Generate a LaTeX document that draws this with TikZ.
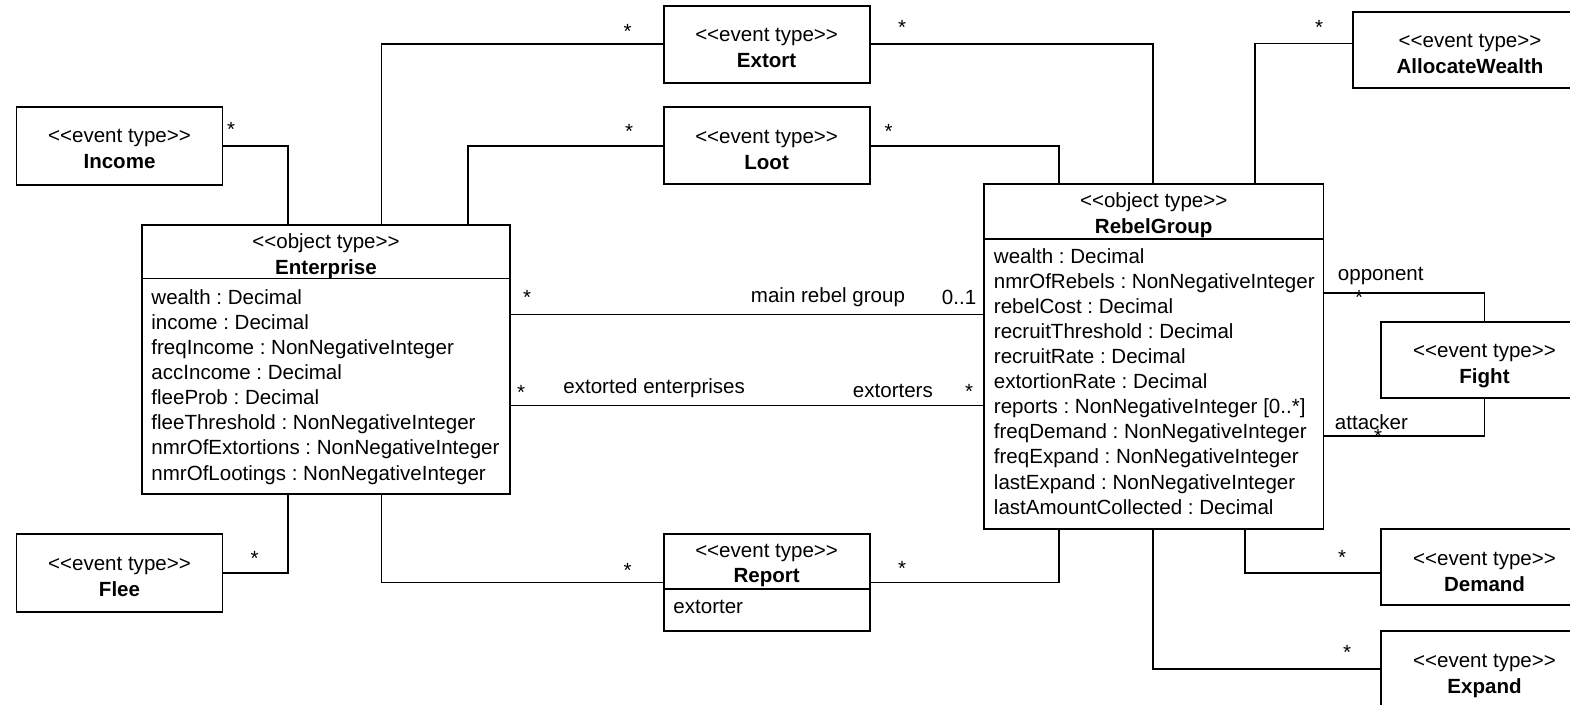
\documentclass[tikz,border=0pt]{standalone}
\usepackage{fontspec}
\newfontfamily\umlfont{Liberation Sans}
\usetikzlibrary{calc}
\frenchspacing
% \umlbox{name}{x1}{y1}{x2}{y2}: empty framed rectangle spanning the given corners
\newcommand\umlbox[5]{%
  \node[boxshape, minimum width={(#4-#2)*0.75pt}, minimum height={(#5-#3)*0.75pt}]
    (#1) at ({(#2+#4)/2},{(#3+#5)/2}) {};}
\begin{document}
\begin{tikzpicture}[x=0.75pt,y=-0.75pt,
  line width=1.4pt,
  boxshape/.style={draw, rectangle, inner sep=0pt, outer sep=0pt, fill=white},
  txt/.style={font=\umlfont\fontsize{15.4}{18}\selectfont, inner sep=0pt, anchor=base},
  ttl/.style={txt, font=\umlfont\fontsize{15.4}{18}\selectfont\bfseries},
  attr/.style={txt, anchor=base west},
  mult/.style={txt, anchor=base},
  rolelbl/.style={txt, anchor=base west}
]
\useasboundingbox (0,0) rectangle (1570,705);
\fill[white] (0,0) rectangle (1570,705);
\clip (0,0) rectangle (1570,705);

% ---------- boxes ----------
\umlbox{inc}{16.5}{107.3}{222.5}{185}
\umlbox{flee}{16.5}{534.3}{222.5}{611.7}
\umlbox{ent}{142}{225}{510}{494}
\umlbox{ext}{663.6}{5.7}{869.6}{82.7}
\umlbox{loot}{663.6}{107.3}{869.6}{184.3}
\umlbox{rep}{663.6}{534}{869.6}{631}
\umlbox{rg}{984}{184}{1323.5}{529}
\umlbox{aw}{1353}{11.7}{1588}{88.3}
\umlbox{fight}{1381}{322}{1588}{398}
\umlbox{dem}{1381}{529}{1588}{605}
\umlbox{exp}{1381}{631}{1588}{708}

% compartment separators
\draw (ent.west |- 0,278.5) -- (ent.east |- 0,278.5);
\draw (rg.west |- 0,239) -- (rg.east |- 0,239);
\draw (rep.west |- 0,589) -- (rep.east |- 0,589);

% ---------- box titles ----------
\node[txt] (inc-s) at (119.5,143) {<<event type>>};
\node[ttl] (inc-n) at (119.5,169) {Income};
\node[txt] (flee-s) at (119.5,570) {<<event type>>};
\node[ttl] (flee-n) at (119.5,596) {Flee};
\node[txt] (ext-s) at (766.6,42) {<<event type>>};
\node[ttl] (ext-n) at (766.6,68) {Extort};
\node[txt] (loot-s) at (766.6,143.5) {<<event type>>};
\node[ttl] (loot-n) at (766.6,169.5) {Loot};
\node[txt] (rep-s) at (766.6,557) {<<event type>>};
\node[ttl] (rep-n) at (766.6,582.5) {Report};
\node[txt] (aw-s) at (1470,48) {<<event type>>};
\node[ttl] (aw-n) at (1470,74) {AllocateWealth};
\node[txt] (fight-s) at (1484.5,358) {<<event type>>};
\node[ttl] (fight-n) at (1484.5,384) {Fight};
\node[txt] (dem-s) at (1484.5,565) {<<event type>>};
\node[ttl] (dem-n) at (1484.5,591) {Demand};
\node[txt] (exp-s) at (1484.5,667) {<<event type>>};
\node[ttl] (exp-n) at (1484.5,693) {Expand};
\node[txt] (ent-s) at (326,249) {<<object type>>};
\node[ttl] (ent-n) at (326,274.5) {Enterprise};
\node[txt] (rg-s) at (1153.7,208) {<<object type>>};
\node[ttl] (rg-n) at (1153.7,234) {RebelGroup};

% ---------- attributes ----------
\foreach \a [count=\i] in {{wealth : Decimal},{income : Decimal},
  {freqIncome : NonNegativeInteger},{accIncome : Decimal},{fleeProb : Decimal},
  {fleeThreshold : NonNegativeInteger},{nmrOfExtortions : NonNegativeInteger},
  {nmrOfLootings : NonNegativeInteger}}
  \node[attr] (ent-a\i) at (150.5,{305+25*(\i-1)}) {\a};

\foreach \a [count=\i] in {{wealth : Decimal},{nmrOfRebels : NonNegativeInteger},
  {rebelCost : Decimal},{recruitThreshold : Decimal},{recruitRate : Decimal},
  {extortionRate : Decimal},{reports : NonNegativeInteger [0..*]},
  {freqDemand : NonNegativeInteger},{freqExpand : NonNegativeInteger},
  {lastExpand : NonNegativeInteger},{lastAmountCollected : Decimal}}
  \node[attr] (rg-a\i) at (993,{264+25*(\i-1)}) {\a};

\node[attr] (rep-a1) at (672.5,613) {extorter};

% ---------- associations ----------
\draw (inc.east) -| (288,0 |- ent.north);
\draw (ext.west) -| (381.5,0 |- ent.north);
\draw (loot.west) -| (468,0 |- ent.north);
\draw (ext.east) -| (1153,0 |- rg.north);
\draw (loot.east) -| (1059,0 |- rg.north);
\draw (aw.west |- 0,43.5) -| (1255,0 |- rg.north);
\draw (ent.east |- 0,314.5) -- (rg.west |- 0,314.5);
\draw (ent.east |- 0,405.5) -- (rg.west |- 0,405.5);
\draw (288,0 |- ent.south) |- (flee.east);
\draw (381.5,0 |- ent.south) |- (rep.west);
\draw (rep.east) -| (1059,0 |- rg.south);
\draw (rg.east |- 0,293) -| (fight.north);
\draw (rg.east |- 0,436) -| (fight.south);
\draw (1245,0 |- rg.south) |- (dem.west |- 0,573);
\draw (1153,0 |- rg.south) |- (exp.west |- 0,669);

% ---------- multiplicities and role names ----------
\node[mult] (m-inc) at (231,137) {*};
\node[mult] (m-ext1) at (627.5,38.5) {*};
\node[mult] (m-ext2) at (902,35) {*};
\node[mult] (m-loot1) at (629,138.5) {*};
\node[mult] (m-loot2) at (888.6,138.5) {*};
\node[mult] (m-aw) at (1319,35) {*};
\node[mult] (m-main1) at (527,305) {*};
\node[rolelbl] (r-main) at (750,303) {main rebel group};
\node[rolelbl] (m-main2) at (941,305) {0..1};
\node[mult] (m-xe1) at (521,400) {*};
\node[rolelbl] (r-xe1) at (562.5,394) {extorted enterprises};
\node[rolelbl] (r-xe2) at (852,398) {extorters};
\node[mult] (m-xe2) at (969,399) {*};
\node[mult] (m-flee) at (254.6,565) {*};
\node[mult] (m-rep1) at (627.5,577) {*};
\node[mult] (m-rep2) at (902,575) {*};
\node[rolelbl] (r-opp) at (1337,281) {opponent};
\node[mult] (m-opp) at (1359,305) {*};
\node[rolelbl] (r-att) at (1334,430) {attacker};
\node[mult] (m-att) at (1378,444) {*};
\node[mult] (m-dem) at (1342,564) {*};
\node[mult] (m-exp) at (1347,659) {*};
\end{tikzpicture}
\end{document}
